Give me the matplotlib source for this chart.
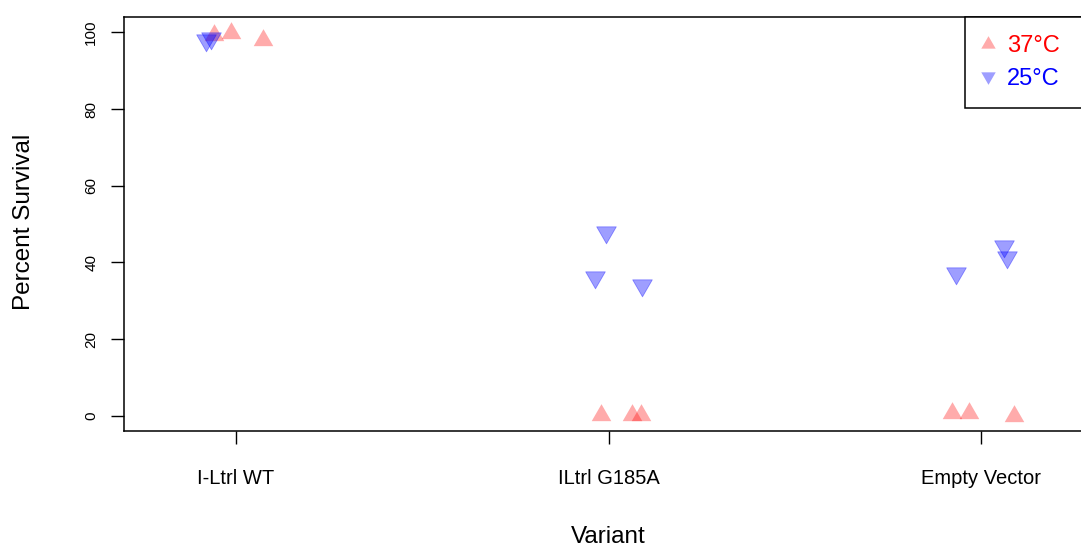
import matplotlib
matplotlib.use("Agg")
import matplotlib.pyplot as plt
from matplotlib.path import Path
from matplotlib.lines import Line2D
import numpy as np

plt.rcParams['font.family'] = ['Liberation Sans', 'DejaVu Sans']

# Strain variants on the x axis (jittered positions around 1, 2, 3)
variants = ["I-Ltrl WT", "ILtrl G185A", "Empty Vector"]

# 37°C survival
x_37 = [0.941, 0.987, 1.072, 1.979, 2.064, 2.088, 2.923, 2.966, 3.089]
y_37 = [99.3, 99.8, 98.1, 0.2, 0.1, 0.1, 0.8, 0.8, 0.0]

# 25°C survival
x_25 = [0.920, 0.933, 1.992, 1.965, 2.091, 2.932, 3.062, 3.070]
y_25 = [97.9, 98.6, 47.9, 36.2, 34.2, 37.1, 44.3, 41.5]

# Triangles with their centroid on the data point
s = np.sqrt(3) / 2
tri_up = Path([(0, 1), (-s, -0.5), (s, -0.5), (0, 1)],
              [Path.MOVETO, Path.LINETO, Path.LINETO, Path.CLOSEPOLY])
tri_down = Path([(0, -1), (-s, 0.5), (s, 0.5), (0, -1)],
                [Path.MOVETO, Path.LINETO, Path.LINETO, Path.CLOSEPOLY])

red = (1, 0, 0, 0.33)
blue = (0, 0, 1, 0.38)

W, H = 1081, 549
fig = plt.figure(figsize=(W / 100, H / 100), dpi=100)
ax = fig.add_axes([124 / W, (H - 431) / H, (1093 - 124) / W, 414 / H])

ax.plot(x_37, y_37, linestyle='none', marker=tri_up, markersize=16.3,
        markerfacecolor=red, markeredgecolor='none')
ax.plot(x_25, y_25, linestyle='none', marker=tri_down, markersize=16.3,
        markerfacecolor=blue, markeredgecolor=blue, markeredgewidth=0.6)

ax.set_xlim(0.7, 3.3)
ax.set_ylim(-4, 104)

ax.set_xticks([1, 2, 3])
ax.set_xticklabels(variants, fontsize=14.5)
ax.set_yticks([0, 20, 40, 60, 80, 100])
ax.set_yticklabels(["0", "20", "40", "60", "80", "100"], rotation=90,
                   va='center', fontsize=11)
ax.tick_params(axis='x', direction='out', length=9, width=1.0, pad=18)
ax.tick_params(axis='y', direction='out', length=9.5, width=1.0, pad=9)

for sp in ax.spines.values():
    sp.set_linewidth(1.1)

fig.text(608 / W, (H - 537) / H, "Variant", ha='center', va='center', fontsize=17.5)
fig.text(24 / W, (H - 222) / H, "Percent Survival", ha='center', va='center',
         rotation=90, fontsize=17.5)

handles = [
    Line2D([], [], linestyle='none', marker=tri_up, markersize=12,
           markerfacecolor=red, markeredgecolor='none'),
    Line2D([], [], linestyle='none', marker=tri_down, markersize=12,
           markerfacecolor=blue, markeredgecolor='none'),
]
x0 = (965 - 124) / (1093 - 124)
leg = ax.legend(handles, ["37°C", "25°C"], loc='upper left',
                bbox_to_anchor=(x0, 1.0, 1 - x0, 0), mode='expand',
                borderaxespad=0, fontsize=17, handlelength=0.47,
                handletextpad=0.55, borderpad=0.76, labelspacing=0.45,
                fancybox=False, framealpha=1)
leg.get_frame().set_edgecolor('black')
leg.get_frame().set_linewidth(1.1)
for txt, c in zip(leg.get_texts(), ['red', 'blue']):
    txt.set_color(c)

fig.savefig("out.png", dpi=100)
